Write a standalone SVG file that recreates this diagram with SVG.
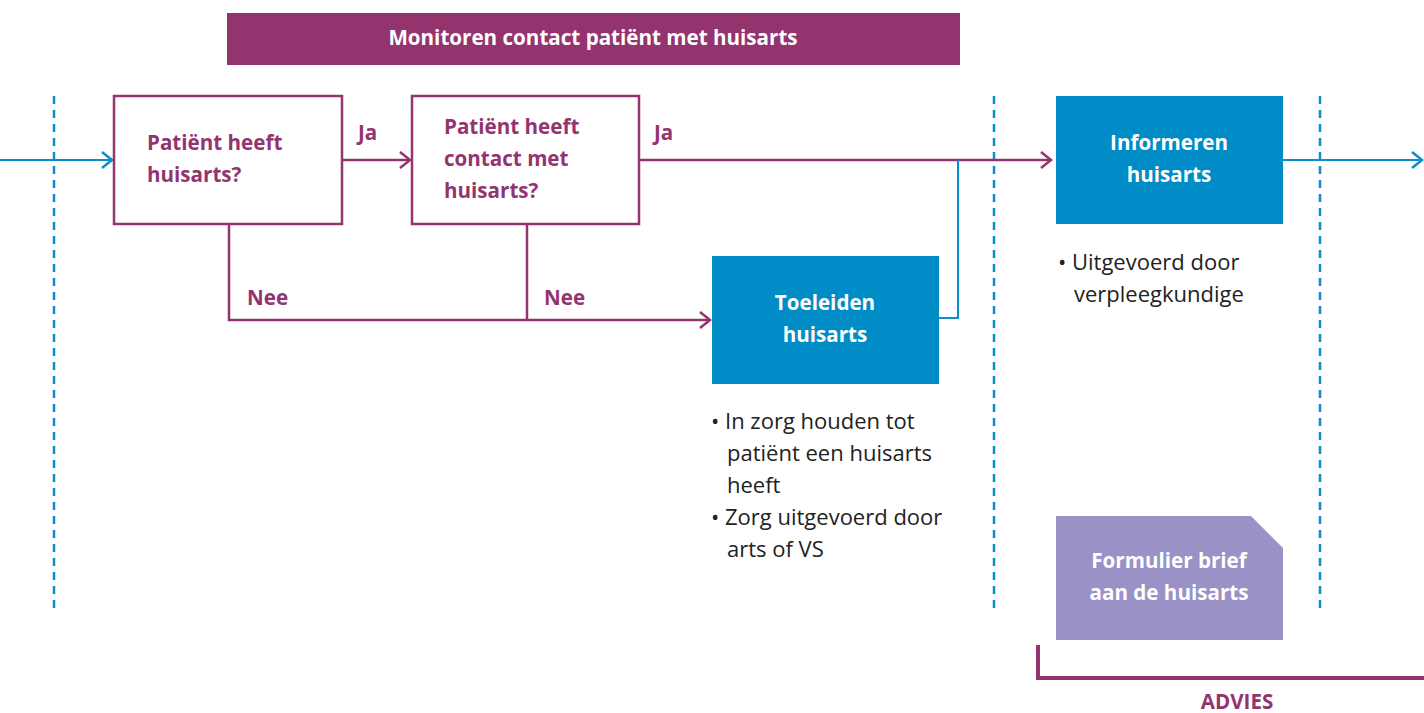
<svg xmlns="http://www.w3.org/2000/svg" width="1424" height="713" viewBox="0 0 1424 713">
<style>
text{font-family:"Open Sans","Liberation Sans",sans-serif;font-size:22px}
.b{font-weight:bold;font-size:20.6px}
.w{fill:#fff}
.p{fill:#93346f}
.t{fill:#222}
.dash{stroke:#0b8fcc;stroke-width:2.5;stroke-dasharray:8,6;fill:none}
.pl{stroke:#93346f;stroke-width:2.5;fill:none}
.bl{stroke:#0b8fcc;stroke-width:2;fill:none}
</style>
<defs>
<marker id="ap" markerWidth="14" markerHeight="20" refX="12" refY="10" orient="auto" markerUnits="userSpaceOnUse">
<path d="M2,2 L12,10 L2,18" fill="none" stroke="#93346f" stroke-width="2.5"/>
</marker>
<marker id="ab" markerWidth="14" markerHeight="20" refX="12" refY="10" orient="auto" markerUnits="userSpaceOnUse">
<path d="M2,2 L12,10 L2,18" fill="none" stroke="#0b8fcc" stroke-width="2.5"/>
</marker>
</defs>
<rect width="1424" height="713" fill="#fff"/>
<g id="lanes">
<line class="dash" x1="54" y1="96" x2="54" y2="608"/>
<line class="dash" x1="994" y1="96" x2="994" y2="608"/>
<line class="dash" x1="1320" y1="96" x2="1320" y2="608"/>
</g>
<g id="banner">
<rect x="227" y="13" width="733" height="52" fill="#93346f"/>
<text class="b w" x="593" y="45" text-anchor="middle">Monitoren contact patiënt met huisarts</text>
</g>
<g id="connectors">
<line class="bl" x1="0" y1="160" x2="112" y2="160" marker-end="url(#ab)"/>
<line class="pl" x1="342" y1="160" x2="410" y2="160" marker-end="url(#ap)"/>
<line class="pl" x1="639" y1="160" x2="1051" y2="160" marker-end="url(#ap)"/>
<polyline class="pl" points="229,224 229,320 710,320" marker-end="url(#ap)"/>
<line class="pl" x1="527" y1="224" x2="527" y2="320"/>
<polyline class="bl" points="939,318 958,318 958,160"/>
<line class="bl" x1="1283" y1="160" x2="1422" y2="160" marker-end="url(#ab)"/>
<text class="b p" x="358" y="140">Ja</text>
<text class="b p" x="654" y="140">Ja</text>
<text class="b p" x="247" y="305">Nee</text>
<text class="b p" x="544" y="305">Nee</text>
</g>
<g id="q1">
<rect x="114" y="96" width="228" height="128" fill="#fff" stroke="#93346f" stroke-width="2.5"/>
<text class="b p" x="147" y="150">Patiënt heeft</text>
<text class="b p" x="147" y="182">huisarts?</text>
</g>
<g id="q2">
<rect x="412" y="96" width="227" height="128" fill="#fff" stroke="#93346f" stroke-width="2.5"/>
<text class="b p" x="444" y="134">Patiënt heeft</text>
<text class="b p" x="444" y="166">contact met</text>
<text class="b p" x="444" y="198">huisarts?</text>
</g>
<g id="toeleiden">
<rect x="712" y="256" width="227" height="128" fill="#008cc6"/>
<text class="b w" x="825" y="310" text-anchor="middle">Toeleiden</text>
<text class="b w" x="825" y="342" text-anchor="middle">huisarts</text>
<text class="t" x="711" y="429">• In zorg houden tot</text>
<text class="t" x="727" y="461">patiënt een huisarts</text>
<text class="t" x="727" y="493">heeft</text>
<text class="t" x="711" y="525">• Zorg uitgevoerd door</text>
<text class="t" x="727" y="557">arts of VS</text>
</g>
<g id="informeren">
<rect x="1056" y="96" width="227" height="128" fill="#008cc6"/>
<text class="b w" x="1169" y="150" text-anchor="middle">Informeren</text>
<text class="b w" x="1169" y="182" text-anchor="middle">huisarts</text>
<text class="t" x="1058" y="270">• Uitgevoerd door</text>
<text class="t" x="1074" y="302">verpleegkundige</text>
</g>
<g id="formulier">
<path d="M1056,516 H1251 L1283,548 V640 H1056 Z" fill="#9a91c6"/>
<text class="b w" x="1169" y="568" text-anchor="middle">Formulier brief</text>
<text class="b w" x="1169" y="600" text-anchor="middle">aan de huisarts</text>
</g>
<g id="advies">
<polyline points="1038,645 1038,678 1424,678" fill="none" stroke="#93346f" stroke-width="4"/>
<text class="b p" x="1237" y="709" text-anchor="middle">ADVIES</text>
</g>
</svg>
